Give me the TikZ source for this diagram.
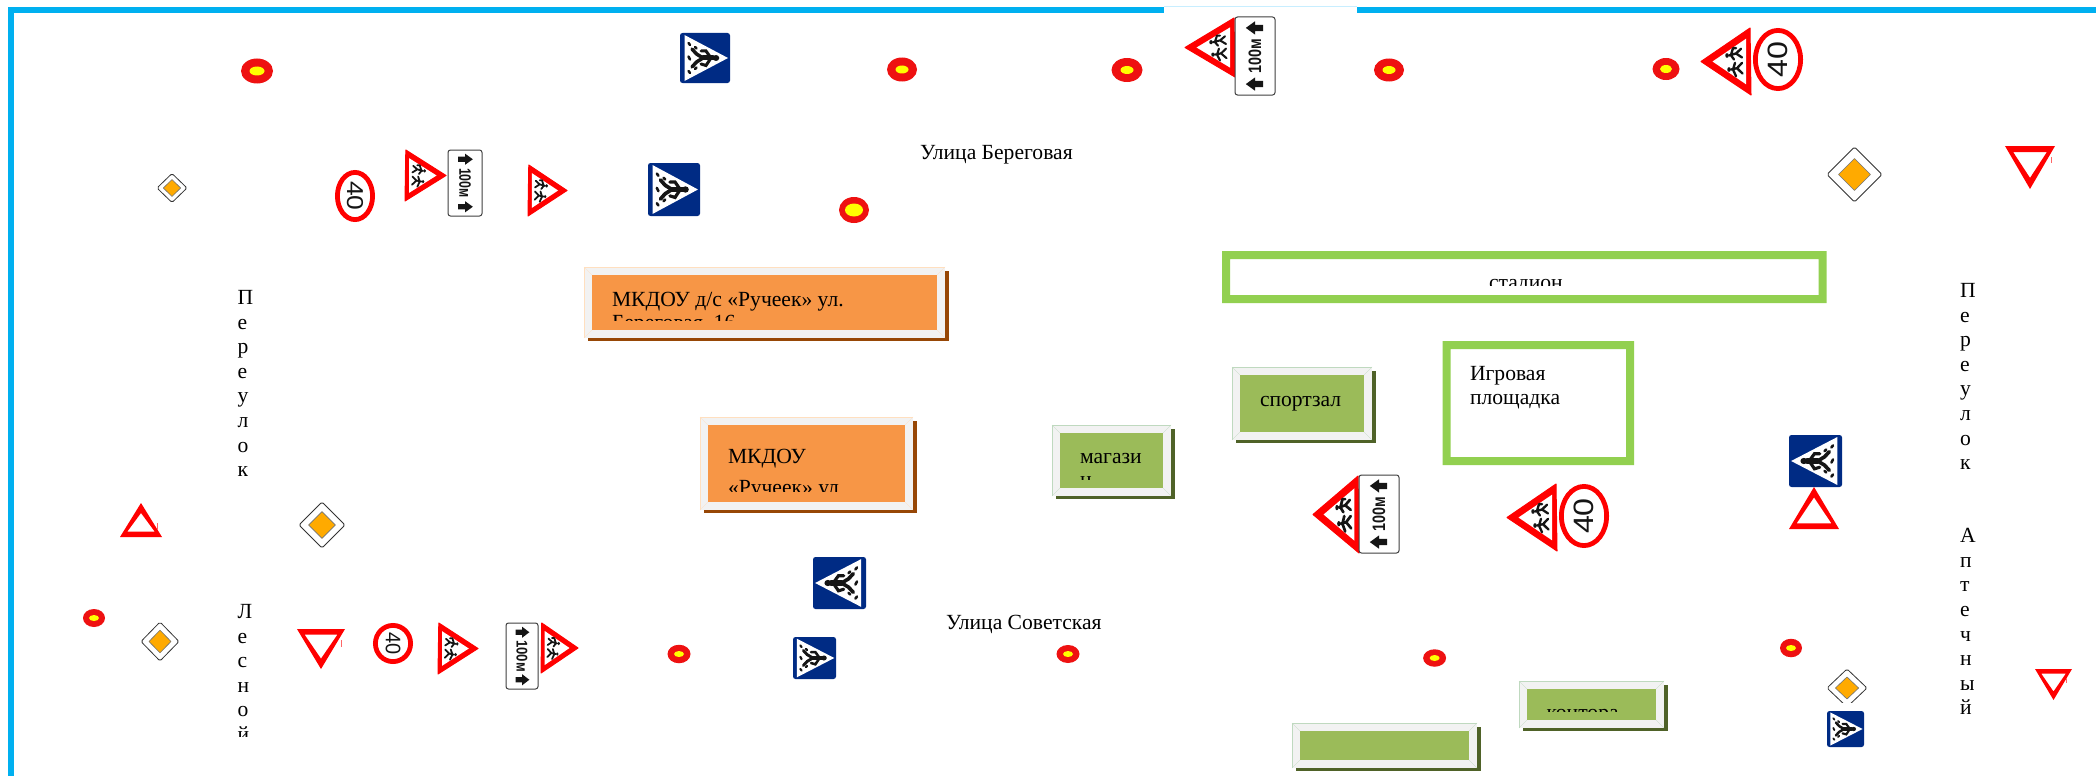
\documentclass[tikz,border=0pt]{standalone}
\usepackage{fontspec}
\setmainfont{Liberation Serif}
\newfontfamily\platefont{Liberation Sans}
\definecolor{framecyan}{HTML}{00B0F0}
\definecolor{framepale}{HTML}{C8EEFF}
\definecolor{signred}{HTML}{FF0000}
\definecolor{dotred}{HTML}{EE1111}
\definecolor{dotyellow}{HTML}{FFFF00}
\definecolor{signnavy}{HTML}{002B84}
\definecolor{prioorange}{HTML}{FFAA00}
\definecolor{boxorange}{HTML}{F79646}
\definecolor{shadeorange}{HTML}{974706}
\definecolor{boxgreen}{HTML}{9BBB59}
\definecolor{shadegreen}{HTML}{4F6228}
\definecolor{framegreen}{HTML}{92D050}
\definecolor{bevelgrey}{HTML}{F2F2F2}
\definecolor{inkblack}{HTML}{151515}
\tikzset{
  lbl/.style={inner sep=0pt,outer sep=0pt,anchor=base west,align=left,font=\fontsize{21.6}{24.6}\selectfont},
  vlbl/.style={inner sep=0pt,outer sep=0pt,anchor=north west,align=left,font=\fontsize{21.6}{24.6}\selectfont},
  kidline/.style={inkblack,line cap=round,line join=round},
}
% dot: cx cy w h iw ih
\newcommand\DotSign[6]{%
  \fill[dotred] (#1,#2) ellipse [x radius={#3/2},y radius={#4/2}];
  \fill[dotyellow] (#1,#2) ellipse [x radius={#5/2},y radius={#6/2}];}
% pedestrian crossing: anchor-x top signed-w h
\newcommand\PedSign[4]{%
  \begin{scope}[shift={(#1,#2)},xscale=#3,yscale=#4]
    \fill[signnavy,rounded corners=2.5pt] (0,0) rectangle (1,1);
    \fill[white] (.09,.04) -- (.96,.5) -- (.09,.96) -- cycle;
    \fill[inkblack] (.72,.5) ellipse [x radius=.065,y radius=.06];
    \draw[inkblack,line width={#4*.1pt},line cap=round] (.66,.5) -- (.46,.5);
    \draw[inkblack,line width={#4*.06pt},line cap=round] (.62,.5) -- (.52,.36) -- (.42,.36);
    \draw[inkblack,line width={#4*.06pt},line cap=round] (.62,.5) -- (.52,.65) -- (.42,.62);
    \draw[inkblack,line width={#4*.07pt},line cap=round] (.46,.5) -- (.33,.42) -- (.24,.32);
    \draw[inkblack,line width={#4*.07pt},line cap=round] (.46,.5) -- (.33,.58) -- (.24,.68);
    \draw[inkblack,line width={#4*.05pt},line cap=round] (.17,.2) -- (.2,.24) (.17,.47) -- (.2,.53) (.17,.76) -- (.2,.8) (.3,.28) -- (.33,.31) (.3,.72) -- (.33,.69);
  \end{scope}}
% children warning: anchor-x top signed-w h
\newcommand\KidSign[4]{%
  \begin{scope}[shift={(#1,#2)},xscale=#3,yscale=#4]
    \fill[signred,line join=round,draw=signred,line width=1pt] (.02,0) -- (1,.5) -- (0,1) -- cycle;
    \fill[white] (.10,.16) -- (.77,.5) -- (.10,.84) -- cycle;
    \begin{scope}[shift={(-.08,0)}]
    \fill[inkblack] (.56,.41) circle [radius=.035];
    \draw[kidline,line width={#4*.035pt}] (.52,.41) -- (.38,.38) -- (.28,.31) (.38,.38) -- (.26,.44) (.48,.4) -- (.44,.3) -- (.38,.3) (.48,.41) -- (.42,.47);
    \fill[inkblack] (.52,.62) circle [radius=.035];
    \draw[kidline,line width={#4*.035pt}] (.48,.62) -- (.36,.6) -- (.26,.52) (.36,.6) -- (.25,.68) (.44,.62) -- (.4,.52) (.44,.62) -- (.38,.72);
    \end{scope}
  \end{scope}}
% 100 m plate: name cx cy across along angle fontsize xstretch
\newcommand\PlateSign[8]{%
  \begin{scope}[shift={(#2,#3)},rotate=#6]
    \draw[fill=white,draw=black!75,line width=1pt,rounded corners=2.5pt] ({-#5/2},{-#4/2}) rectangle ({#5/2},{#4/2});
    \node[inner sep=0pt,transform shape,xscale=#8,text=inkblack,font={\platefont\bfseries\fontsize{#7}{#7}\selectfont}] (#1) at (0,0) {100м};
    \foreach \s in {-1,1}{
      \fill[inkblack] ({\s*#5*.36},{-#4*.23}) -- ({\s*#5*.36+#5*.085},{-#4*.0}) -- ({\s*#5*.36+#5*.04},{-#4*.0}) -- ({\s*#5*.36+#5*.04},{#4*.2}) -- ({\s*#5*.36-#5*.04},{#4*.2}) -- ({\s*#5*.36-#5*.04},{-#4*.0}) -- ({\s*#5*.36-#5*.085},{-#4*.0}) -- cycle;}
  \end{scope}}
% speed limit: name cx cy w h angle font-size xstretch
\newcommand\LimitSign[8]{%
  \draw[fill=white,draw=signred,line width=4.8pt] (#2,#3) ellipse [x radius={#4/2-2.4},y radius={#5/2-2.4}];
  \begin{scope}[shift={(#2,#3)},rotate=#6,xscale=#8]
    \node[inner sep=0pt,transform shape,text=inkblack,font={\platefont\fontsize{#7}{#7}\selectfont}] (#1) at (0,0) {40};
  \end{scope}}
% priority: cx cy w h
\newcommand\PrioSign[4]{%
  \draw[fill=white,draw=black!80,line width=.8pt,line join=round,rounded corners=1.6pt] ({#1-#3/2},#2) -- (#1,{#2-#4/2}) -- ({#1+#3/2},#2) -- (#1,{#2+#4/2}) -- cycle;
  \draw[fill=prioorange,draw=black!55,line width=.6pt,line join=round] ({#1-#3*.29},#2) -- (#1,{#2-#4*.29}) -- ({#1+#3*.29},#2) -- (#1,{#2+#4*.29}) -- cycle;}
% yield: x0 x1 base-y apex-y s(+1 apex up,-1 apex down) band
\newcommand\YieldSign[6]{%
  \fill[signred,even odd rule] (#1,#3) -- ({(#1+#2)/2},#4) -- (#2,#3) -- cycle
     ({#1+1.35*#6},{#3-#5*#6}) -- ({(#1+#2)/2},{#4+#5*1.85*#6}) -- ({#2-1.35*#6},{#3-#5*#6}) -- cycle;}
% bevel box: x0 y0 x1 y1 fill shadow edge
\newcommand\BevelBox[7]{%
  \fill[#6] ({#1+4},{#2+4}) rectangle ({#3+4},{#4+3});
  \fill[bevelgrey] (#1,#2) rectangle (#3,#4);
  \draw[#7,line width=.5pt] (#1,#4) -- (#1,#2) -- (#3,#2);
  \draw[#7,line width=.3pt] (#1,#2) -- ({#1+8},{#2+8}) (#3,#2) -- ({#3-8},{#2+8}) (#1,#4) -- ({#1+8},{#4-8}) (#3,#4) -- ({#3-8},{#4-8});
  \fill[#5] ({#1+8},{#2+8}) rectangle ({#3-8},{#4-8});}
% green frame: x0 y0 x1 y1
\newcommand\GreenFrame[4]{%
  \fill[framegreen,even odd rule] (#1,#2) rectangle (#3,#4) ({#1+8},{#2+8}) rectangle ({#3-8},{#4-8});}
\begin{document}
\begin{tikzpicture}[x=1pt,y=-1pt]
\useasboundingbox (0,0) rectangle (2096,776);
\fill[white] (0,0) rectangle (2096,776);
% outer frame
\fill[framecyan] (8,7) rectangle (1164,13);
\fill[framecyan] (1357,7) rectangle (2096,13);
\fill[framecyan] (8,7) rectangle (14,776);
\fill[framepale] (1164,6) rectangle (1357,7);
% road dots
\DotSign{257}{71}{32}{25}{15}{9}
\DotSign{902}{69.5}{30}{24}{13}{8}
\DotSign{1127}{70}{31}{24}{13}{8}
\DotSign{1389}{70}{30}{23}{13}{8}
\DotSign{1666}{69}{27}{22}{12}{8}
\DotSign{854}{210}{30}{26}{18}{13}
\DotSign{94}{618}{22}{18}{10}{6}
\DotSign{679}{654}{23}{18.5}{10}{6}
\DotSign{1068}{654}{23}{18}{10}{6}
\DotSign{1434.6}{658}{23}{17.5}{10}{6}
\DotSign{1791}{648}{22}{18.5}{10}{6}
% pedestrian signs
\PedSign{680}{33}{50}{50}
\PedSign{648}{163}{52}{53}
\PedSign{866}{557}{-53}{52}
\PedSign{793}{637}{43}{42}
\PedSign{1842}{435}{-53}{52}
\PedSign{1827}{711}{37}{36}
% children warning signs
\KidSign{405}{150}{41}{51}
\KidSign{528}{165}{39}{51}
\KidSign{438}{623}{40}{51}
\KidSign{541}{623}{37}{50}
\KidSign{1235}{18}{-50}{59}
\KidSign{1751}{28}{-50}{67}
\KidSign{1359}{476}{-46}{77}
\KidSign{1557}{484}{-50}{67}
% 100 m plates
\PlateSign{pa}{465}{183}{34}{66}{-90}{16.5}{.75}
\PlateSign{pb}{522}{656}{32}{66}{-90}{15.5}{.85}
\PlateSign{pc}{1255}{56}{40}{78}{90}{18}{.8}
\PlateSign{pd}{1379}{514}{40}{78}{90}{18}{.8}
% speed limits
\LimitSign{sa}{355}{196}{40}{52}{-90}{23}{1.15}
\LimitSign{sb}{393}{643.5}{40}{41}{-90}{21}{.95}
\LimitSign{sc}{1778}{59.5}{50}{63}{90}{28}{1.15}
\LimitSign{sd}{1584}{516}{50}{64}{90}{28}{1.15}
% priority signs
\PrioSign{172}{188}{30}{29}
\PrioSign{322}{525}{46}{46}
\PrioSign{160}{641.5}{38}{39}
\PrioSign{1854.5}{174.5}{55}{55}
\begin{scope}
  \clip (1820,660) rectangle (1880,702);
  \PrioSign{1847}{688}{40}{38}
\end{scope}
% yield signs
\YieldSign{120}{162}{537}{503}{1}{5.4}
\YieldSign{1789}{1839}{529}{487}{1}{5.6}
\YieldSign{297}{345}{629}{669}{-1}{5.6}
\YieldSign{2005}{2055}{146}{189}{-1}{6}
\YieldSign{2035}{2072}{669}{700}{-1}{4.6}
\draw[signred!60,line width=.7pt] (157,523) -- (157,530) (341.5,640) -- (341.5,647) (2051.6,157) -- (2051.6,163) (2066.7,678) -- (2066.7,683);
% buildings
\BevelBox{584}{267}{945}{338}{boxorange}{shadeorange}{orange!25}
\begin{scope}
  \clip (592,275) rectangle (937,320);
  \node[lbl,anchor=north west,font=\fontsize{21.6}{23}\selectfont] (sada) at (612,292.3) {МКДОУ д/с «Ручеек» ул.\\Береговая, 16};
\end{scope}
\BevelBox{700}{417}{913}{510}{boxorange}{shadeorange}{orange!25}
\begin{scope}
  \clip (708,425) rectangle (905,491.7);
  \node[lbl,anchor=north west,font=\fontsize{21.6}{31}\selectfont] (sadb) at (728,449.3) {МКДОУ\\«Ручеек» ул};
\end{scope}
\BevelBox{1052}{425}{1171}{496}{boxgreen}{shadegreen}{green!40!black!25}
\begin{scope}
  \clip (1060,433) rectangle (1163,479.3);
  \node[lbl,anchor=north west,font=\fontsize{21.6}{22.5}\selectfont] (mag) at (1080,453.8) {магази\\н};
\end{scope}
\BevelBox{1232}{367}{1372}{440}{boxgreen}{shadegreen}{green!40!black!25}
\node[lbl] (sport) at (1260,406) {спортзал};
\BevelBox{1292}{723}{1477}{768}{boxgreen}{shadegreen}{green!40!black!25}
\BevelBox{1519}{681}{1664}{728}{boxgreen}{shadegreen}{green!40!black!25}
\begin{scope}
  \clip (1527,689) rectangle (1656,711);
  \node[lbl] (kont) at (1546.5,719.5) {контора};
\end{scope}
\GreenFrame{1222}{251}{1826.5}{303}
\begin{scope}
  \clip (1230,259) rectangle (1818,285.5);
  \node[lbl] (stad) at (1489,289) {стадион};
\end{scope}
\GreenFrame{1442.6}{341}{1634}{465}
\node[vlbl] (play) at (1470,366) {Игровая\\площадка};
% street names
\node[lbl] (bereg) at (920,159) {Улица Береговая};
\node[lbl] (sovet) at (946,629) {Улица Советская};
\node[vlbl] (perl) at (237.5,290.4) {П\\е\\р\\е\\у\\л\\о\\к};
\begin{scope}
  \clip (225,595) rectangle (270,736);
  \node[vlbl] (les) at (237.5,604.4) {Л\\е\\с\\н\\о\\й};
\end{scope}
\node[vlbl] (perr) at (1960,283.4) {П\\е\\р\\е\\у\\л\\о\\к};
\node[vlbl] (apt) at (1960,528.4) {А\\п\\т\\е\\ч\\н\\ы\\й};
\end{tikzpicture}
\end{document}
